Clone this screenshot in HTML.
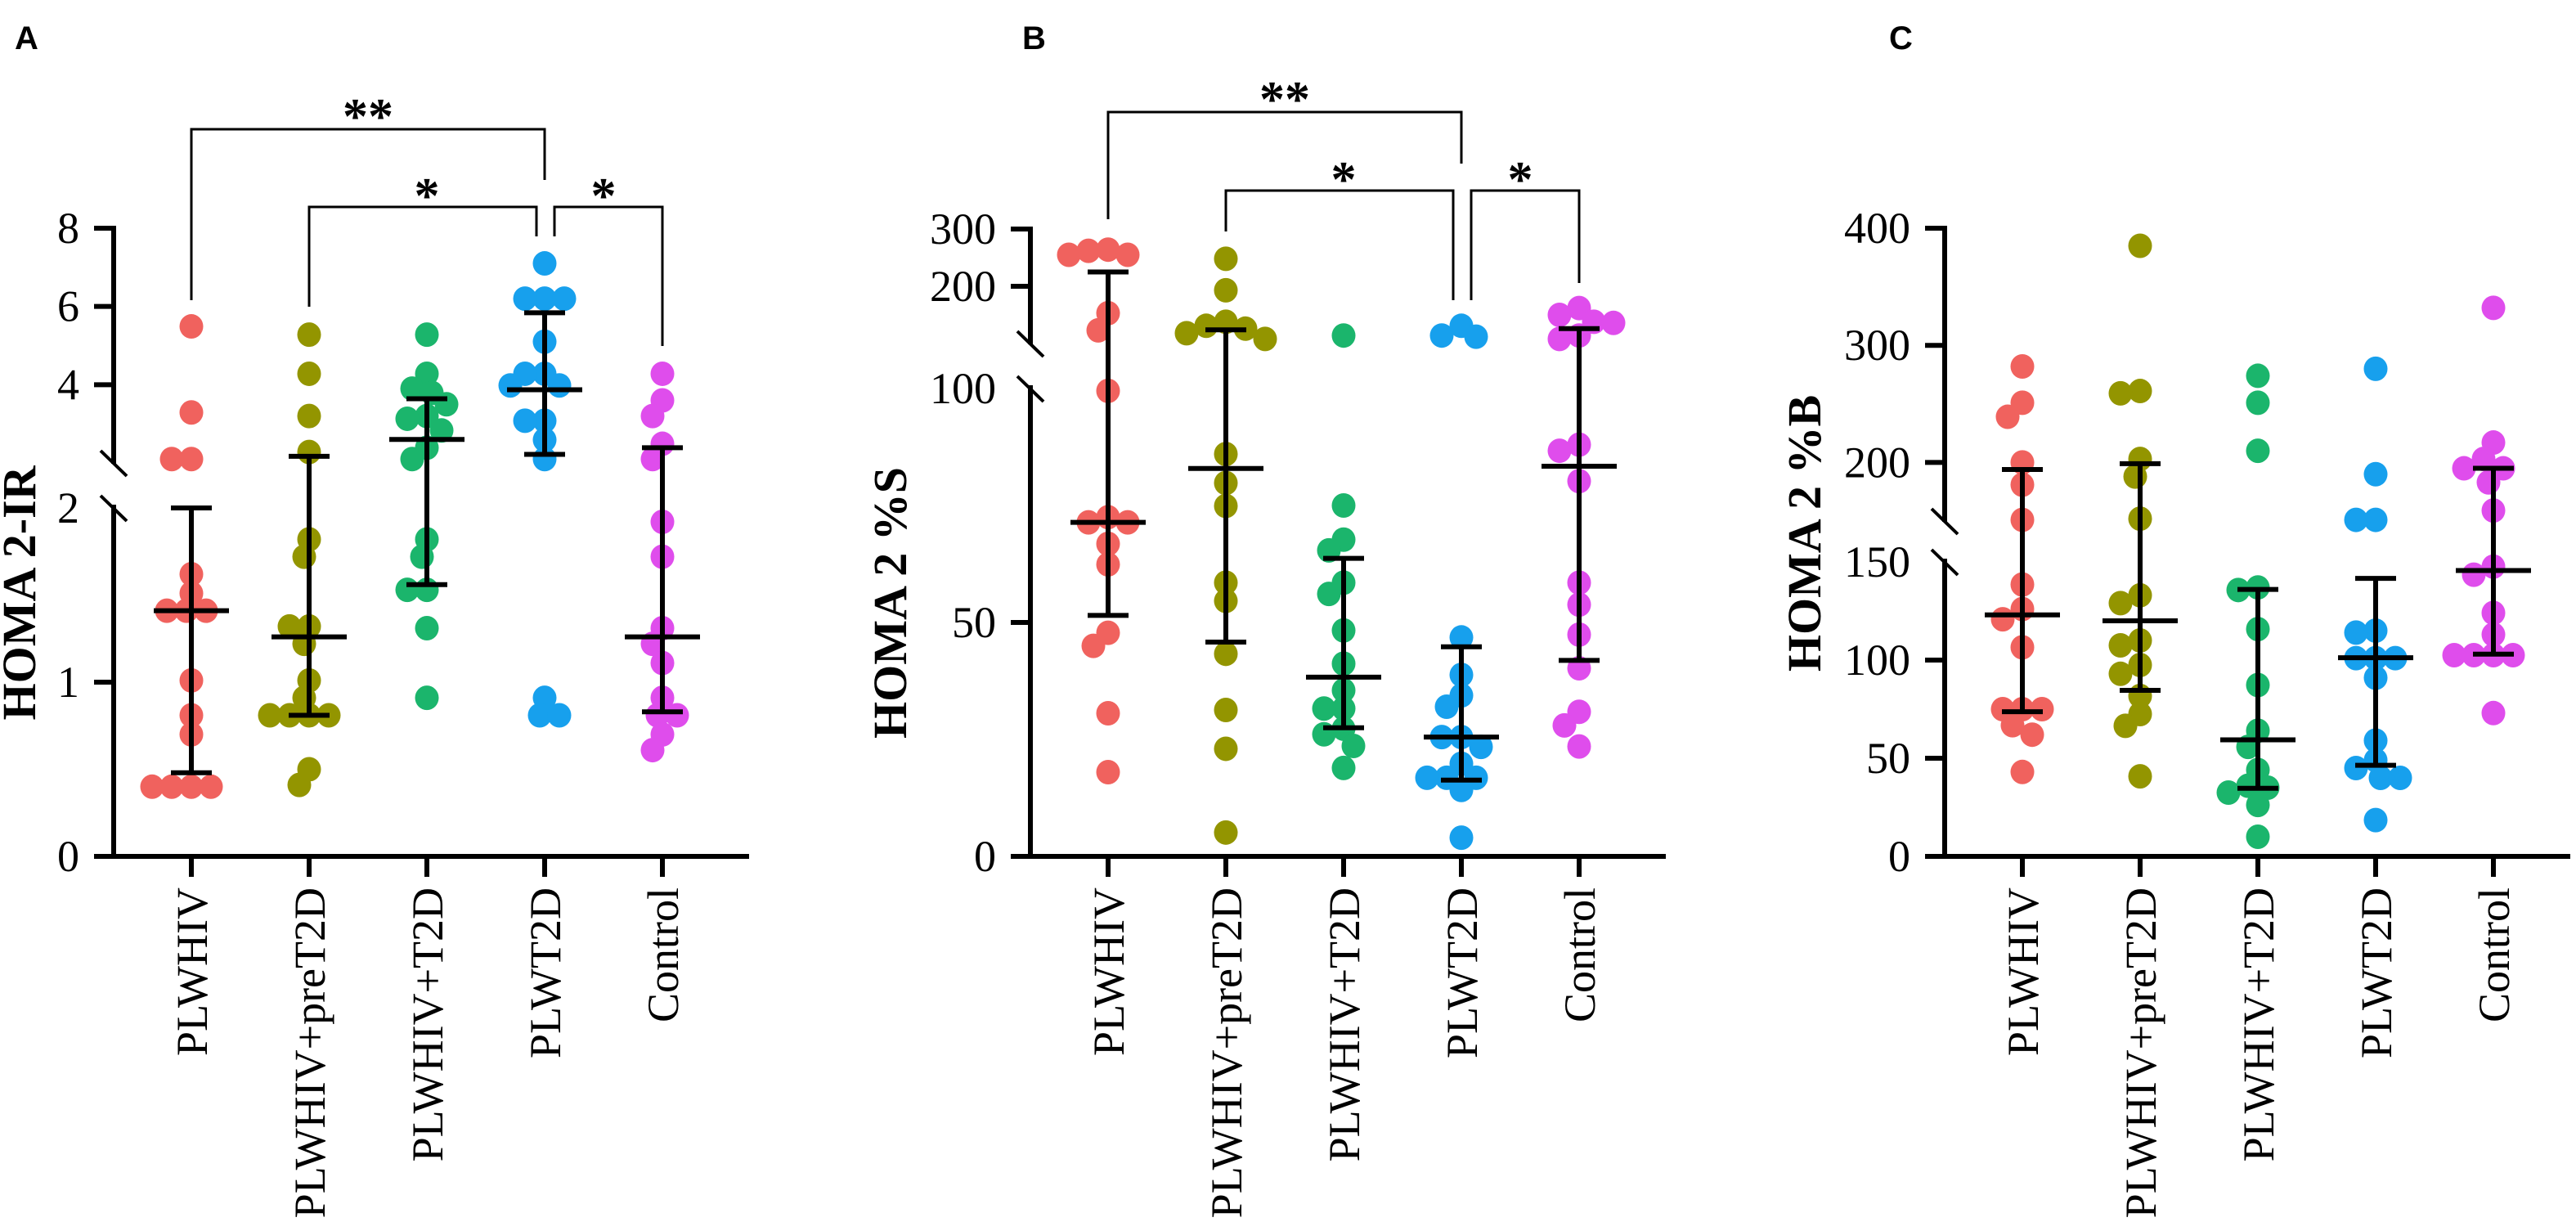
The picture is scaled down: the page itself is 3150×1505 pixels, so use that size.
<!DOCTYPE html>
<html><head><meta charset="utf-8"><style>
html,body{margin:0;padding:0;background:#fff;}
svg{display:block;}
text{font-family:"Liberation Serif",serif;}
</style></head><body>
<svg id="chart" width="3150" height="1505" viewBox="0 0 3150 1505" xmlns="http://www.w3.org/2000/svg">
<text x="18" y="60" style="font-family:'Liberation Sans',sans-serif;font-weight:bold;font-size:40px">A</text>
<text x="1250" y="60" style="font-family:'Liberation Sans',sans-serif;font-weight:bold;font-size:40px">B</text>
<text x="2310" y="60" style="font-family:'Liberation Sans',sans-serif;font-weight:bold;font-size:40px">C</text>
</svg>
<script>
const categories = ["PLWHIV","PLWHIV+preT2D","PLWHIV+T2D","PLWT2D","Control"];
const colors = ["#F0625E","#939500","#1BB56C","#17A0ED","#DF4DEC"];

// Panel A: HOMA 2-IR
const aPLWHIV = [5.49,3.29,2.1,2.1,1.62,1.51,1.41,1.41,1.41,1.01,0.81,0.70,0.40,0.40,0.40,0.40];
const aPreT2D = [5.28,4.28,3.2,2.28,1.82,1.72,1.32,1.32,1.22,1.01,0.91,0.81,0.81,0.81,0.81,0.50,0.41];
const aHivT2D = [5.28,4.28,3.9,3.79,3.5,3.2,3.13,2.83,2.39,2.1,1.82,1.72,1.53,1.53,1.31,0.91];
const aT2D = [7.1,6.2,6.2,6.2,5.1,4.28,4.28,3.98,3.98,3.08,3.08,2.59,2.1,0.91,0.81,0.81];
const aControl = [4.28,3.6,3.2,2.49,2.1,1.92,1.72,1.31,1.22,1.11,0.91,0.81,0.81,0.70,0.61];
const aMean = [1.41,1.26,2.6,3.87,1.26];
const aLow = [0.48,0.81,1.56,2.22,0.83];
const aHigh = [2.0,2.17,3.64,5.84,2.39];
const aUpperTicks = [4,6,8];
const aLowerTicks = [0,1,2];

// Panel B: HOMA 2 %S
const bPLWHIV = [264,262,255,255,153,123,99.5,72.5,71.4,71.4,66.8,62.4,47.8,45,30.6,18];
const bPreT2D = [248,193,138,131,126,118,108,86,79.8,74.9,58.5,54.6,43.3,31.3,23,5.1];
const bHivT2D = [114,75,67.7,65.4,58.5,56.1,48.3,41.2,35.5,31.6,31.6,27.3,26.1,23.6,18.9];
const bT2D = [131,114,112,46.8,38.8,34.4,32,25.5,25.5,23.4,19.8,16.8,16.8,16.8,14.2,4];
const bControl = [162,150,138,136,114,108,88,86.7,80.2,58.5,53.8,47.4,40.2,30.9,28,23.5];
const bMean = [71.4,82.9,38.3,25.5,83.4];
const bLow = [51.5,45.8,27.5,16.3,41.9];
const bHigh = [225,124,63.7,44.8,126];
const bUpperTicks = [200,300];
const bLowerTicks = [0,50,100];

// Panel C: HOMA 2 %B
const cPLWHIV = [282,251,239,200,181,151,138.5,126,120.8,106.5,75,75,75,66.8,62,43];
const cPreT2D = [385,261,259,203,188,152,133,129,110,107.5,97.5,93,81.7,72.5,66.5,40.8];
const cHivT2D = [274,251,210,137,135.7,115.8,87.3,64,55.8,44,36,35,32.5,26.2,10];
const cT2D = [280,190,151,151,115,114,101,101,101,91,59,49,45,40,40,18.5];
const cControl = [332,217,203,195,195,183,159,147.6,143.5,124,113,102.5,102.5,102.5,102.5,73];
const cMean = [123,120,59.4,101.2,145.6];
const cLow = [73.7,84.6,34.7,46.4,103];
const cHigh = [194,199,136,141.6,195];
const cUpperTicks = [200,300,400];
const cLowerTicks = [0,50,100,150];

const NS = "http://www.w3.org/2000/svg";
const svg = document.getElementById("chart");
function mk(tag, attrs, parent){
  const e = document.createElementNS(NS, tag);
  for (const k in attrs) e.setAttribute(k, attrs[k]);
  (parent||svg).appendChild(e);
  return e;
}

function drawPanel(p){
  const g = mk("g", {});
  
  
  const xOf = i => p.axisX + 95 + i*144;
  const yOf = v => {
    if (v <= p.lower.d[1]) {
      const t = (v - p.lower.d[0])/(p.lower.d[1]-p.lower.d[0]);
      return p.lower.r[0] + t*(p.lower.r[1]-p.lower.r[0]);
    }
    const t = (v - p.upper.d[0])/(p.upper.d[1]-p.upper.d[0]);
    return p.upper.r[0] + t*(p.upper.r[1]-p.upper.r[0]);
  };
  const ax = mk("g", {stroke:"#000","stroke-width":6,fill:"none"}, g);
  
  
  mk("line",{x1:p.axisX,y1:p.upper.r[1]-3,x2:p.axisX,y2:p.upper.r[0]+1},ax);
  mk("line",{x1:p.axisX,y1:p.lower.r[1]-4,x2:p.axisX,y2:p.lower.r[0]+3},ax);
  const bk = mk("g",{stroke:"#000","stroke-width":4},g);
  
  
  mk("line",{x1:p.axisX-16,y1:p.upper.r[0]-15,x2:p.axisX+16,y2:p.upper.r[0]+16},bk);
  mk("line",{x1:p.axisX-16,y1:p.lower.r[1]-15,x2:p.axisX+16,y2:p.lower.r[1]+16},bk);
  const xa = mk("g",{stroke:"#000","stroke-width":6},g);
  
  
  mk("line",{x1:p.axisX-23,y1:p.lower.r[0],x2:p.axisX+p.xLen,y2:p.lower.r[0]},xa);
  const allTicks = p.upperTicks.map(v=>[v,true]).concat(p.lowerTicks.map(v=>[v,v!==p.lower.d[1]]));
  allTicks.forEach(([v,hasTick])=>{
    const y = yOf(v);
    if (hasTick) {
      const t = mk("line",{x1:p.axisX-24,y1:y,x2:p.axisX,y2:y,stroke:"#000","stroke-width":6},g);
      
      
    }
    const tl = mk("text",{x:p.axisX-42,y:y+18,"text-anchor":"end","font-size":54},g);
    
    
    tl.textContent = String(v);
  });
  const yt = mk("text",{x:0,y:0,"text-anchor":"middle","font-size":58,"font-weight":"bold",
    transform:`translate(${p.titleX+20},${p.titleY}) rotate(-90)`},g);
  
  
  yt.textContent = p.title;
  categories.forEach((c,i)=>{
    const x = xOf(i);
    const t = mk("line",{x1:x,y1:p.lower.r[0],x2:x,y2:p.lower.r[0]+25,stroke:"#000","stroke-width":6},g);
    
    
    const tl = mk("text",{x:0,y:0,"text-anchor":"end","font-size":54,
      transform:`translate(${x+19},1085) rotate(-90)`},g);
    
    
    tl.textContent = c;
  });
  p.groups.forEach((vals,i)=>{
    const cx = xOf(i);
    const placed = [];
    const gg = mk("g",{fill:colors[i]},g);
    
    
    vals.slice().sort((a,b)=>b-a).forEach(v=>{
      const y = yOf(v);
      let off = 0;
      for (let k=0;k<60;k++){
        const o = (k===0)?0:((k%2)?-1:1)*Math.ceil(k/2)*6;
        if (placed.every(q=>Math.hypot(q[0]-o,q[1]-y)>=22)) { off=o; break; }
      }
      placed.push([off,y]);
      const c = mk("ellipse",{cx:cx+off,cy:y,rx:14.5,ry:15},gg);
      
      
    });
  });
  p.mean.forEach((m,i)=>{
    const x = xOf(i);
    const eb = mk("g",{stroke:"#000","stroke-width":6},g);
    
    
    const lo = p.low[i], hi = p.high[i];
    [p.lower,p.upper].forEach(seg=>{
      const a = Math.max(lo, seg.d[0]), b = Math.min(hi, seg.d[1]);
      if (a < b) mk("line",{x1:x,y1:yOf(a),x2:x,y2:yOf(b)},eb);
    });
    mk("line",{x1:x-46,y1:yOf(m),x2:x+46,y2:yOf(m)},eb);
    mk("line",{x1:x-25,y1:yOf(lo),x2:x+25,y2:yOf(lo)},eb);
    mk("line",{x1:x-25,y1:yOf(hi),x2:x+25,y2:yOf(hi)},eb);
  });
  if (!p.br) return;
  const br = mk("g",{stroke:"#000","stroke-width":3,fill:"none"},g);
  
  
  const s = p.br;
  const x0=xOf(0), x1=xOf(1), x3=xOf(3), x4=xOf(4);
  mk("polyline",{points:`${x0},${s.l0} ${x0},${s.top} ${x3},${s.top} ${x3},${s.r0}`},br);
  mk("polyline",{points:`${x1},${s.l1} ${x1},${s.mid} ${x3-10},${s.mid} ${x3-10},${s.r1}`},br);
  mk("polyline",{points:`${x3+12},${s.r1} ${x3+12},${s.mid} ${x4},${s.mid} ${x4},${s.r2}`},br);
  [[(x0+x3)/2,s.top-28,"**"],[(x1+x3)/2,s.mid-26,"*"],[(x3+x4)/2,s.mid-26,"*"]].forEach(([x,y,t])=>{
    const st = mk("text",{x:x,y:y+33,"text-anchor":"middle","font-size":62,"font-weight":"bold"},g);
    
    
    st.textContent = t;
  });
}

drawPanel({name:"panel-a-homa2-ir", axisX:139, xLen:777, title:"HOMA 2-IR", titleX:23, titleY:725,
  lower:{d:[0,2],r:[1047,621]}, upper:{d:[2,8],r:[566,279]},
  upperTicks:aUpperTicks, lowerTicks:aLowerTicks,
  groups:[aPLWHIV,aPreT2D,aHivT2D,aT2D,aControl], mean:aMean, low:aLow, high:aHigh,
  br:{top:158,l0:367,r0:220,mid:253,l1:375,r1:289,r2:423}});
drawPanel({name:"panel-b-homa2-s", axisX:1260, xLen:777, title:"HOMA 2 %S", titleX:1088, titleY:737,
  lower:{d:[0,100],r:[1047,475]}, upper:{d:[100,300],r:[420,280]},
  upperTicks:bUpperTicks, lowerTicks:bLowerTicks,
  groups:[bPLWHIV,bPreT2D,bHivT2D,bT2D,bControl], mean:bMean, low:bLow, high:bHigh,
  br:{top:137,l0:268,r0:200,mid:233,l1:283,r1:367,r2:346}});
drawPanel({name:"panel-c-homa2-b", axisX:2378, xLen:765, title:"HOMA 2 %B", titleX:2206, titleY:652,
  lower:{d:[0,150],r:[1047,687]}, upper:{d:[150,400],r:[637,279]},
  upperTicks:cUpperTicks, lowerTicks:cLowerTicks,
  groups:[cPLWHIV,cPreT2D,cHivT2D,cT2D,cControl], mean:cMean, low:cLow, high:cHigh,
  br:null});
</script>
</body></html>
